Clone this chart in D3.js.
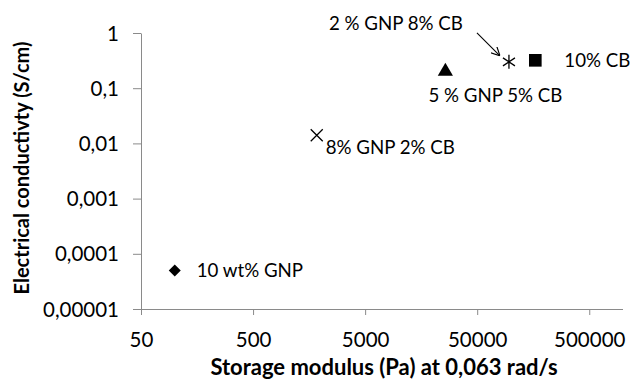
<!DOCTYPE html>
<html><head><meta charset="utf-8">
<script src="https://cdn.jsdelivr.net/npm/d3@7"></script>
<style>body{margin:0;background:#fff}svg{display:block}text{font-family:Lato,"Open Sans",sans-serif;fill:#000}</style>
</head><body><svg id="c" width="630" height="379"></svg>
<script>
const samples = ["10 wt% GNP","8% GNP 2% CB","5 % GNP 5% CB","2 % GNP 8% CB","10% CB"];
const storageModulus = [100, 1850, 26000, 96000, 165000];
const conductivity = [0.00005, 0.014, 0.21, 0.30, 0.32];
const markers = ["diamond","times","triangle","asterisk","square"];
const xTicks = [50, 500, 5000, 50000, 500000];
const yTicks = [1, 0.1, 0.01, 0.001, 0.0001, 0.00001];
const yTickLabels = ["1","0,1","0,01","0,001","0,0001","0,00001"];
const xTitle = "Storage modulus (Pa) at 0,063 rad/s";
const yTitle = "Electrical conductivty (S/cm)";

const svg = d3.select("#c");
const x = d3.scaleLog().domain([50, 1e6]).range([141, 623]);
const y = d3.scaleLog().domain([1e-5, 1]).range([309, 33]);
const axisColor = "#8a8a8a";

// x axis
const gx = svg.append("g").attr("transform","translate(0,309)")
  .call(d3.axisBottom(x).tickValues(xTicks).tickFormat(d3.format("d")).tickSize(6).tickSizeOuter(0));
gx.select(".domain").attr("stroke",axisColor).attr("d","M133,0.5H623");
gx.selectAll(".tick line").attr("stroke",axisColor);
gx.selectAll(".tick text").attr("dy",0).attr("y",38).style("font-size","20.5px").style("font-family","Lato");

// y axis
const gy = svg.append("g").attr("transform","translate(141,0)")
  .call(d3.axisLeft(y).tickValues(yTicks).tickFormat((d,i)=>yTickLabels[i]).tickSize(8).tickSizeOuter(0));
gy.select(".domain").attr("stroke",axisColor);
gy.selectAll(".tick line").attr("stroke",axisColor);
gy.selectAll(".tick text").attr("x",-22).attr("dy","0.35em").style("font-size","20.5px").style("font-family","Lato");

// titles
svg.append("text").attr("x",384).attr("y",375).attr("text-anchor","middle")
  .style("font-size","22px").style("font-weight","bold").text(xTitle);
svg.append("text").attr("transform","translate(29,168) rotate(-90)").attr("text-anchor","middle")
  .style("font-size","20px").style("font-weight","bold").text(yTitle);

// markers
const g = svg.append("g");
samples.forEach((s,i)=>{
  const cx = x(storageModulus[i]), cy = y(conductivity[i]);
  const m = markers[i];
  if (m==="diamond") g.append("path").attr("d","M0,-6L6,0L0,6L-6,0Z").attr("transform",`translate(${cx},${cy})`).attr("fill","#000");
  if (m==="triangle") g.append("path").attr("d", d3.symbol(d3.symbolTriangle, 100)()).attr("transform",`translate(${cx},${cy+1})`).attr("fill","#000");
  if (m==="square") g.append("path").attr("d", d3.symbol(d3.symbolSquare, 160)()).attr("transform",`translate(${cx},${cy})`).attr("fill","#000");
  if (m==="times") g.append("path").attr("d","M-6,-6L6,6M-6,6L6,-6").attr("transform",`translate(${cx},${cy})`).attr("stroke","#000").attr("stroke-width",1.3).attr("fill","none");
  if (m==="asterisk") g.append("path").attr("d","M-6,-4L6,4M-6,4L6,-4M0,-7L0,7").attr("transform",`translate(${cx},${cy})`).attr("stroke","#000").attr("stroke-width",1.3).attr("fill","none");
});

// labels
const lbl = (i, dx, dy, anchor) => g.append("text")
  .attr("x", x(storageModulus[i]) + dx).attr("y", y(conductivity[i]) + dy)
  .attr("text-anchor", anchor||"start").attr("dy","0.35em")
  .style("font-size","18.7px").text(samples[i]);
lbl(0, 22, 0);
lbl(1, 9, 12);
lbl(2, 50, 25, "middle");
lbl(3, -113, -38, "middle");
lbl(4, 29, 0);

// arrow
svg.append("defs").append("marker").attr("id","ah").attr("viewBox","0 0 10 10").attr("refX",10).attr("refY",5)
  .attr("markerWidth",9).attr("markerHeight",9).attr("markerUnits","userSpaceOnUse").attr("orient","auto")
  .append("path").attr("d","M0,0L10,5L0,10").attr("fill","none").attr("stroke","#000").attr("stroke-width",1.3);
const ax = x(storageModulus[3]), ay = y(conductivity[3]);
svg.append("line").attr("x1",ax-32).attr("y1",ay-29).attr("x2",ax-9).attr("y2",ay-6)
  .attr("stroke","#000").attr("stroke-width",1.1).attr("marker-end","url(#ah)");
</script></body></html>
